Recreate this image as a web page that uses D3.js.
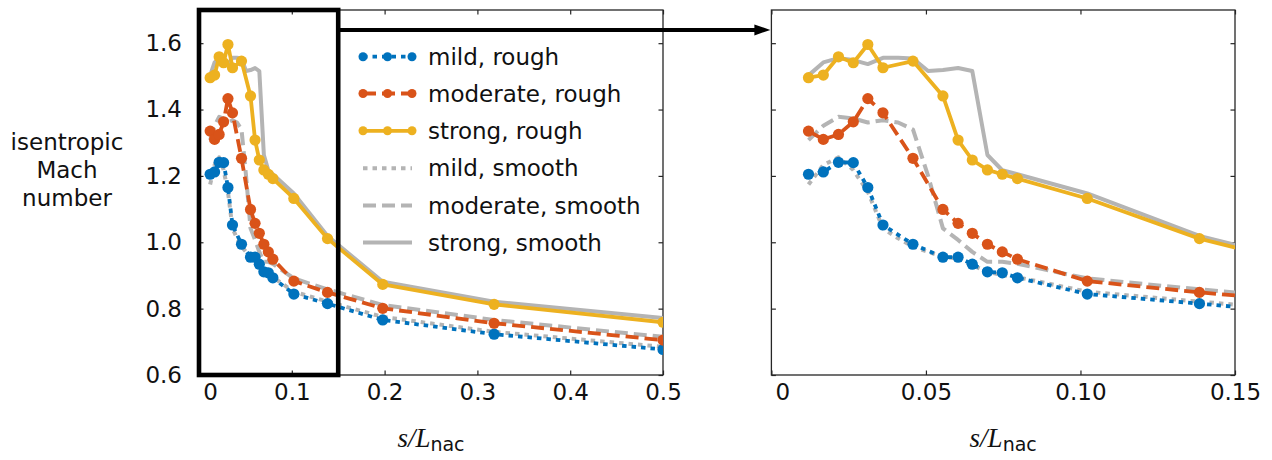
<!DOCTYPE html>
<html>
<head>
<meta charset="utf-8">
<script src="https://cdn.jsdelivr.net/npm/d3@7"></script>
<style>
  html, body { margin: 0; padding: 0; background: #fff; }
  svg { display: block; }
  text { font-family: "DejaVu Sans", Verdana, sans-serif; fill: #111; }
</style>
</head>
<body>
<svg id="chart" width="1272" height="460"></svg>
<script>
// Surface positions s/L_nac of the pressure taps
const sRough = [0.012, 0.0168, 0.0217, 0.0265, 0.0312, 0.0361, 0.0458, 0.0555, 0.0604, 0.065, 0.0699, 0.0747, 0.0796, 0.1022, 0.1385, 0.198, 0.318, 0.5];
const sSmooth = [0.012, 0.0168, 0.0217, 0.0265, 0.0312, 0.0361, 0.041, 0.0458, 0.0507, 0.0555, 0.0604, 0.065, 0.0699, 0.0747, 0.0796, 0.1022, 0.1385, 0.198, 0.318, 0.5];

// Isentropic Mach number, rough surface
const mildRough = [1.205, 1.212, 1.241, 1.240, 1.165, 1.052, 0.994, 0.955, 0.955, 0.934, 0.911, 0.908, 0.893, 0.844, 0.815, 0.766, 0.723, 0.677];
const moderateRough = [1.335, 1.310, 1.325, 1.363, 1.433, 1.390, 1.253, 1.099, 1.057, 1.027, 0.994, 0.971, 0.949, 0.883, 0.849, 0.801, 0.756, 0.705];
const strongRough = [1.496, 1.504, 1.559, 1.541, 1.596, 1.526, 1.546, 1.441, 1.308, 1.248, 1.218, 1.205, 1.192, 1.132, 1.011, 0.873, 0.813, 0.759];

// Isentropic Mach number, smooth surface
const mildSmooth = [1.174, 1.233, 1.256, 1.218, 1.152, 1.042, 1.012, 0.987, 0.971, 0.956, 0.951, 0.931, 0.911, 0.901, 0.895, 0.851, 0.821, 0.775, 0.730, 0.685];
const moderateSmooth = [1.308, 1.351, 1.378, 1.373, 1.361, 1.368, 1.361, 1.340, 1.200, 1.042, 1.007, 0.971, 0.941, 0.941, 0.935, 0.891, 0.858, 0.811, 0.766, 0.715];
const strongSmooth = [1.503, 1.542, 1.555, 1.549, 1.537, 1.556, 1.556, 1.554, 1.516, 1.519, 1.525, 1.516, 1.263, 1.217, 1.205, 1.147, 1.019, 0.881, 0.821, 0.772];

// Axis ticks
const yTicks = [0.6, 0.8, 1.0, 1.2, 1.4, 1.6];
const xTicksFull = [0, 0.1, 0.2, 0.3, 0.4, 0.5];
const xTicksZoom = [0, 0.05, 0.10, 0.15];
const xTickLabelsZoom = ["0", "0.05", "0.10", "0.15"];
const legendLabels = ["mild, rough", "moderate, rough", "strong, rough", "mild, smooth", "moderate, smooth", "strong, smooth"];

const BLUE = "#0072BD", ORANGE = "#D95319", YELLOW = "#EDB120", GRAY = "#b4b4b4", AXIS = "#262626";
const FONT = '"DejaVu Sans", Verdana, sans-serif';

const series = [
  { name: legendLabels[3], s: sSmooth, m: mildSmooth,     color: GRAY,   dash: "4.5,5", width: 4,   marker: false },
  { name: legendLabels[4], s: sSmooth, m: moderateSmooth, color: GRAY,   dash: "13,6",  width: 4,   marker: false },
  { name: legendLabels[5], s: sSmooth, m: strongSmooth,   color: GRAY,   dash: null,    width: 4,   marker: false },
  { name: legendLabels[0], s: sRough,  m: mildRough,      color: BLUE,   dash: "4.5,5", width: 3.8, marker: true },
  { name: legendLabels[1], s: sRough,  m: moderateRough,  color: ORANGE, dash: "13,6",  width: 3.8, marker: true },
  { name: legendLabels[2], s: sRough,  m: strongRough,    color: YELLOW, dash: null,    width: 3.8, marker: true }
];

const svg = d3.select("#chart");
const plotTop = 10, plotBottom = 375;
const y = d3.scaleLinear().domain([0.6, 1.7]).range([plotBottom, plotTop]);

const panels = [
  { id: "full", x: d3.scaleLinear().domain([0, 0.5]).range([199, 663]), ticks: xTicksFull,
    fmt: d => d === 0 ? "0" : d3.format(".1f")(d), yLabels: true },
  { id: "zoom", x: d3.scaleLinear().domain([0, 0.15]).range([771.4, 1235]), ticks: xTicksZoom,
    fmt: (d, i) => xTickLabelsZoom[i], yLabels: false }
];

panels.forEach(p => {
  const x = p.x;
  const [x0, x1] = x.range();
  const g = svg.append("g");

  g.append("clipPath").attr("id", "clip-" + p.id)
    .append("rect").attr("x", x0).attr("y", plotTop).attr("width", x1 - x0).attr("height", plotBottom - plotTop);

  // axes: ticks drawn inward on all four sides
  const tk = 4.5;
  const axB = g.append("g").attr("transform", `translate(0,${plotBottom})`)
    .call(d3.axisBottom(x).tickValues(p.ticks).tickSize(-tk).tickPadding(9).tickFormat(p.fmt));
  const axT = g.append("g").attr("transform", `translate(0,${plotTop})`)
    .call(d3.axisTop(x).tickValues(p.ticks).tickSize(-tk).tickFormat(""));
  const axL = g.append("g").attr("transform", `translate(${x0},0)`)
    .call(d3.axisLeft(y).tickValues(yTicks).tickSize(-tk).tickPadding(17)
      .tickFormat(p.yLabels ? d3.format(".1f") : ""));
  const axR = g.append("g").attr("transform", `translate(${x1},0)`)
    .call(d3.axisRight(y).tickValues(yTicks).tickSize(-tk).tickFormat(""));

  [axB, axT, axL, axR].forEach(a => {
    a.select(".domain").remove();
    a.selectAll(".tick line").attr("stroke", AXIS).attr("stroke-width", 1.2);
    a.selectAll(".tick text").attr("font-size", 23).attr("fill", "#111").style("font-family", FONT);
  });
  // the "0" label sits a little right of its tick
  axB.selectAll(".tick text").filter(d => d === 0).attr("x", 11);

  g.append("rect").attr("x", x0).attr("y", plotTop).attr("width", x1 - x0).attr("height", plotBottom - plotTop)
    .attr("fill", "none").attr("stroke", AXIS).attr("stroke-width", 1.3);

  const plot = g.append("g").attr("clip-path", `url(#clip-${p.id})`);
  const line = d3.line().x(d => x(d[0])).y(d => y(d[1]));

  series.forEach(sr => {
    const pts = sr.s.map((s, i) => [s, sr.m[i]]);
    plot.append("path").datum(pts).attr("d", line)
      .attr("fill", "none").attr("stroke", sr.color).attr("stroke-width", sr.width)
      .attr("stroke-dasharray", sr.dash).attr("stroke-linejoin", "round");
    if (sr.marker) {
      plot.selectAll(null).data(pts).join("circle")
        .attr("cx", d => x(d[0])).attr("cy", d => y(d[1])).attr("r", 5.6)
        .attr("fill", sr.color);
    }
  });

  // x-axis title s/L_nac
  const t = g.append("text").attr("x", (x0 + x1) / 2).attr("y", 447).attr("text-anchor", "middle");
  t.append("tspan").text("s/L")
    .style("font-family", '"Liberation Serif", "Times New Roman", serif')
    .style("font-style", "italic").attr("font-size", 27);
  t.append("tspan").text("nac").attr("font-size", 19).attr("dy", 4);
});

// zoom window on the full-range panel and arrow to the zoomed panel
const xF = panels[0].x, xZ = panels[1].x;
svg.append("rect")
  .attr("x", xF(0)).attr("y", y(1.7)).attr("width", xF(0.15) - xF(0)).attr("height", y(0.6) - y(1.7))
  .attr("fill", "none").attr("stroke", "#000").attr("stroke-width", 4.6);

const arrowY = y(1.64);
const tipX = xZ(0) - 1;
svg.append("line").attr("x1", xF(0.15)).attr("x2", tipX - 12).attr("y1", arrowY).attr("y2", arrowY)
  .attr("stroke", "#000").attr("stroke-width", 4);
svg.append("path")
  .attr("d", `M${tipX},${arrowY} L${tipX - 16},${arrowY - 5.5} L${tipX - 16},${arrowY + 5.5} Z`)
  .attr("fill", "#000");

// legend
const legendRows = [
  { s: series[3], y: 56.7 }, { s: series[4], y: 93.5 }, { s: series[5], y: 130.8 },
  { s: series[0], y: 168.2 }, { s: series[1], y: 205.5 }, { s: series[2], y: 242.5 }
];
const lg = svg.append("g");
legendRows.forEach(r => {
  lg.append("line").attr("x1", 363).attr("x2", 412).attr("y1", r.y).attr("y2", r.y)
    .attr("stroke", r.s.color).attr("stroke-width", r.s.width).attr("stroke-dasharray", r.s.dash);
  if (r.s.marker) {
    lg.selectAll(null).data([363, 387.5, 412]).join("circle")
      .attr("cx", d => d).attr("cy", r.y).attr("r", 4.5).attr("fill", r.s.color);
  }
  lg.append("text").attr("x", 428).attr("y", r.y).attr("dy", "0.36em")
    .attr("font-size", 23).text(r.s.name);
});

// y-axis title
const yt = svg.append("text").attr("text-anchor", "middle").attr("font-size", 23);
["isentropic", "Mach", "number"].forEach((w, i) => {
  yt.append("tspan").attr("x", 67).attr("y", 150 + i * 28).text(w);
});
</script>
</body>
</html>
